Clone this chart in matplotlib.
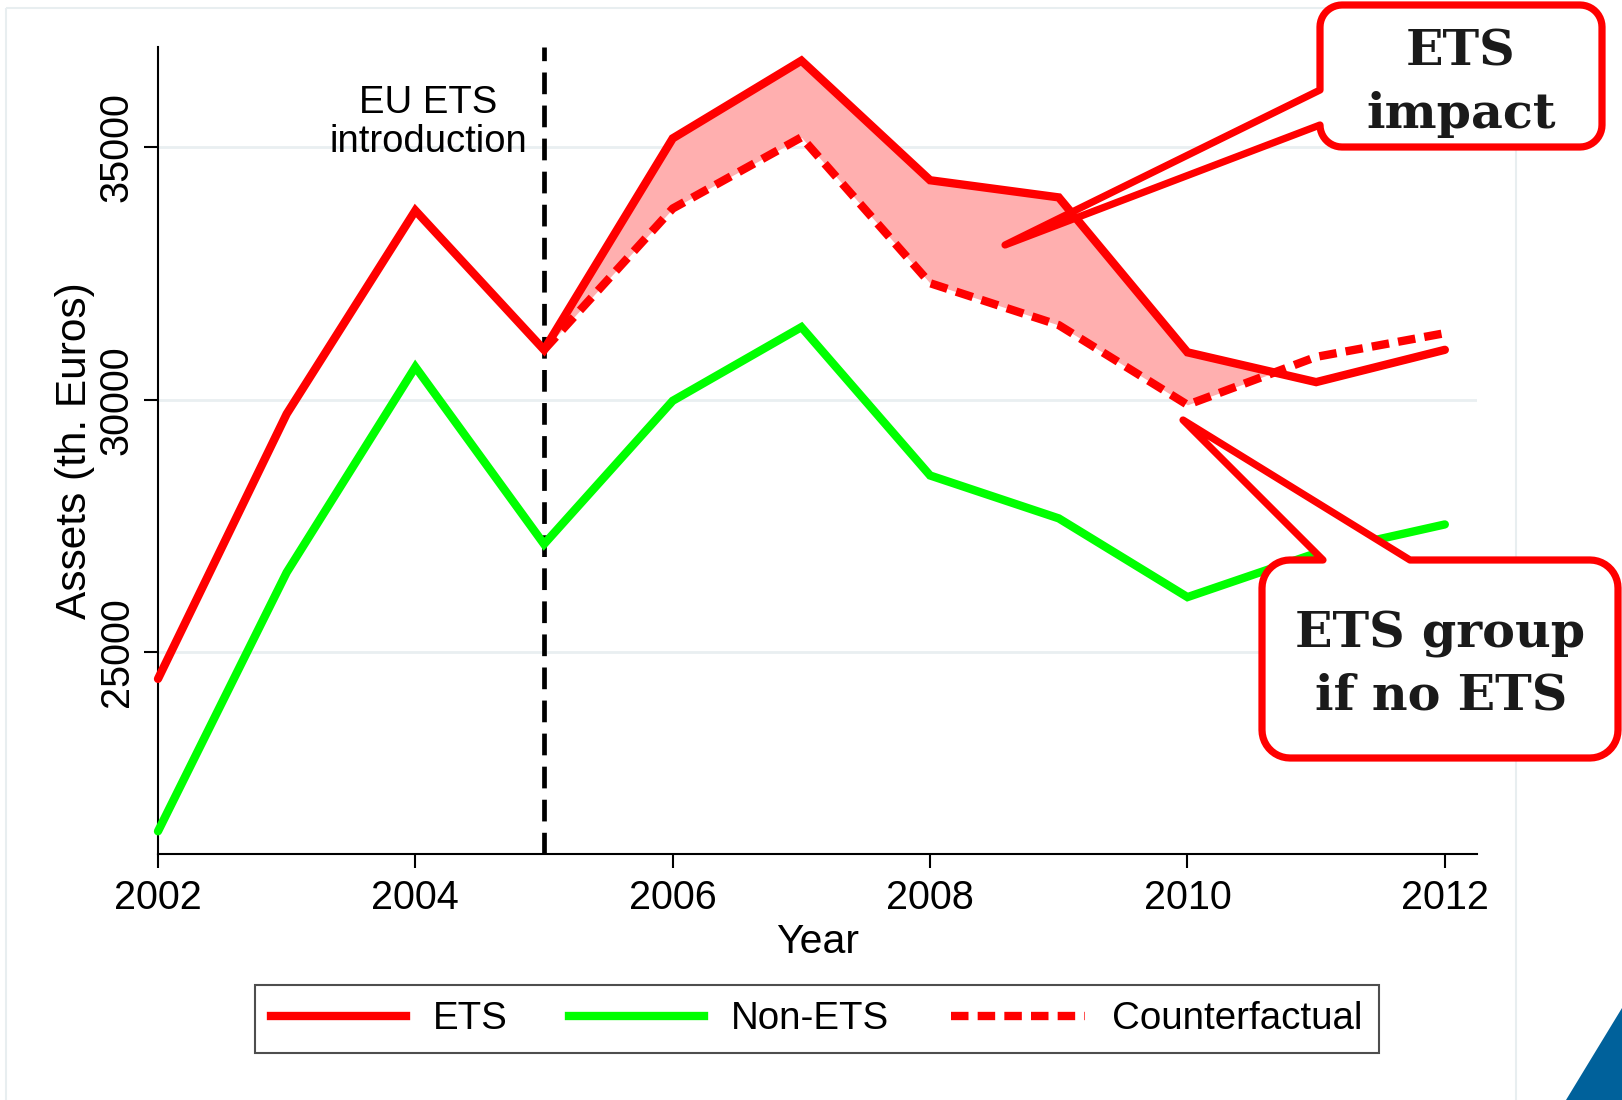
import matplotlib
matplotlib.use("Agg")
import matplotlib.pyplot as plt
from matplotlib.patches import Polygon, Rectangle
from matplotlib.lines import Line2D
from matplotlib.transforms import Affine2D
import numpy as np

# ---- data ----
years = [2002, 2003, 2004, 2005, 2006, 2007, 2008, 2009, 2010, 2011, 2012]
ets = [24470, 29720, 33750, 30990, 35180, 36720, 34350, 34010, 30940, 30350, 30990]
non_ets = [21450, 26580, 30650, 27140, 29980, 31440, 28500, 27650, 26090, 26960, 27530]
cf_years = [2005, 2006, 2007, 2008, 2009, 2010, 2011, 2012]
counterfactual = [30990, 33790, 35200, 32310, 31480, 29900, 30850, 31320]
xticks = [2002, 2004, 2006, 2008, 2010, 2012]
yticks = [25000, 30000, 35000]
intro_year = 2005
legend_labels = ["ETS", "Non-ETS", "Counterfactual"]

plt.rcParams['font.family'] = ['Liberation Sans', 'DejaVu Sans']

W, H = 1622, 1100
fig = plt.figure(figsize=(W / 100, H / 100), dpi=100)
fig.patch.set_facecolor('white')

# pixel (top-origin) -> figure transform
pix = Affine2D().scale(1 / W, -1 / H).translate(0, 1) + fig.transFigure

# faint outer frame
fig.add_artist(Rectangle((6, 8), 1510, 1100, transform=pix, fill=False,
                         edgecolor='#e8eef0', linewidth=1.5, zorder=0))

ax_l, ax_r, ax_t, ax_b = 158, 1477, 46.5, 854
ax = fig.add_axes([ax_l / W, (H - ax_b) / H, (ax_r - ax_l) / W, (ax_b - ax_t) / H])
ax.set_xlim(2002, 2012.25)
ax.set_ylim(21000, 37000)
for s in ['top', 'right']:
    ax.spines[s].set_visible(False)
for s in ['left', 'bottom']:
    ax.spines[s].set_linewidth(1.5)
ax.set_xticks(xticks)
ax.set_yticks(yticks)
ax.tick_params(axis='both', direction='out', length=10, width=1.5, labelsize=28.5)
ax.tick_params(axis='x', pad=8)
ax.tick_params(axis='y', pad=6, labelrotation=90)
for lab in ax.get_yticklabels():
    lab.set_va('center')
ax.yaxis.grid(True, color='#e9eff1', linewidth=2)
ax.set_axisbelow(True)

ax.set_xlabel("Year", fontsize=29.5, labelpad=4)
ax.set_ylabel("Assets (th. Euros)", fontsize=30.5, labelpad=2)

# shaded ETS impact
ets_post = np.array(ets[3:])
ax.fill_between(cf_years, ets_post, counterfactual, where=ets_post >= np.array(counterfactual),
                interpolate=True, color='#ffafaf', linewidth=0, zorder=1)

lw = 6.0
ax.axvline(intro_year, color='black', linewidth=3.4, dashes=(4.6, 2.4), zorder=2)
ax.plot(years, non_ets, color='#00ff00', linewidth=lw, solid_capstyle='round',
        solid_joinstyle='miter', zorder=3, clip_on=False)
ax.plot(years, ets, color='#ff0000', linewidth=lw, solid_capstyle='round',
        solid_joinstyle='miter', zorder=4, clip_on=False)
ax.plot(cf_years, counterfactual, color='#ff0000', linewidth=lw, dashes=(2.1, 1.1),
        dash_capstyle='butt', zorder=5, clip_on=False)

ax.text(2004.1, 35500, "EU ETS\nintroduction", ha='center', va='center',
        fontsize=27.5, linespacing=1.12, zorder=6)

# legend
handles = [Line2D([], [], color='#ff0000', linewidth=lw),
           Line2D([], [], color='#00ff00', linewidth=lw),
           Line2D([], [], color='#ff0000', linewidth=lw, dashes=(2.1, 1.1), dash_capstyle='butt')]
leg = fig.legend(handles, legend_labels, loc='center', bbox_to_anchor=(817 / W, 1 - 1019 / H),
                 ncol=3, frameon=True, fancybox=False, edgecolor='#222222',
                 handlelength=3.5, handletextpad=0.7, columnspacing=1.6, borderpad=0.42,
                 fontsize=27.7)
leg.get_frame().set_linewidth(1.5)


# callouts
def arc(cx, cy, r, a0, a1, n=12):
    t = np.radians(np.linspace(a0, a1, n))
    return [(cx + r * np.cos(t_), cy + r * np.sin(t_)) for t_ in t]


def callout_left(x0, y0, x1, y1, r, yb_top, tip):
    pts = [(x0 + r, y0), (x1 - r, y0)]
    pts += arc(x1 - r, y0 + r, r, -90, 0)
    pts += [(x1, y1 - r)]
    pts += arc(x1 - r, y1 - r, r, 0, 90)
    pts += [(x0 + r, y1)]
    pts += arc(x0 + r, y1 - r, r, 90, 180)
    pts += [tip, (x0, yb_top), (x0, y0 + r)]
    pts += arc(x0 + r, y0 + r, r, 180, 270)
    return pts


def callout_top(x0, y0, x1, y1, r, xa, xb, tip):
    pts = arc(x0 + r, y0 + r, r, 180, 270)
    pts += [(xa, y0), tip, (xb, y0), (x1 - r, y0)]
    pts += arc(x1 - r, y0 + r, r, 270, 360)
    pts += [(x1, y1 - r)]
    pts += arc(x1 - r, y1 - r, r, 0, 90)
    pts += [(x0 + r, y1)]
    pts += arc(x0 + r, y1 - r, r, 90, 180)
    pts += [(x0, y0 + r)]
    return pts


for pts in [callout_left(1320, 5, 1602, 147, 22, 90, (1005, 245)),
            callout_top(1262, 560, 1618, 758, 28, 1323, 1410, (1183, 420))]:
    poly = Polygon(pts, closed=True, transform=pix, facecolor='white', edgecolor='#ff0000',
                   linewidth=5.2, joinstyle='round', zorder=10)
    fig.add_artist(poly)

serif = dict(family=['DejaVu Serif'], weight='bold', fontsize=35.5, color='#1a1a1a',
             ha='center', va='baseline', transform=pix, zorder=11)
fig.text(1461, 65, "ETS", **serif)
fig.text(1461, 128, "impact", **serif)
fig.text(1440, 647, "ETS group", **serif)
fig.text(1441, 710, "if no ETS", **serif)

# blue corner triangle
fig.add_artist(Polygon([(1566, 1100), (1622, 1100), (1622, 1008)], closed=True,
                       transform=pix, facecolor='#00619b', edgecolor='none', zorder=12))

fig.savefig("out.png", dpi=100, facecolor='white')
